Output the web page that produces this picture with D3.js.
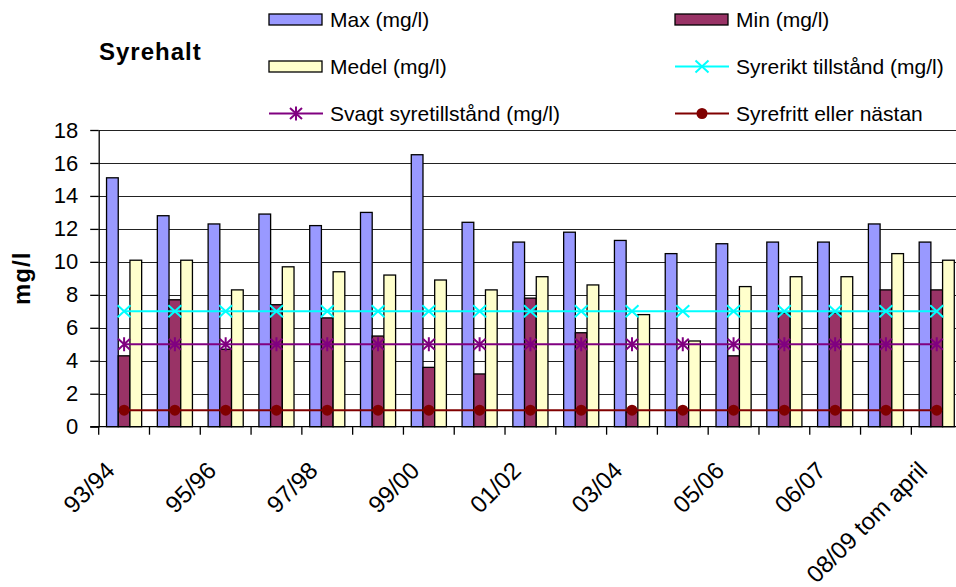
<!DOCTYPE html>
<html><head><meta charset="utf-8">
<script src="https://cdn.jsdelivr.net/npm/d3@7"></script>
<style>
body{margin:0;background:#fff}
svg{display:block;font-family:"Liberation Sans",Arial,sans-serif}
</style>
</head><body>
<svg id="c" width="956" height="587"></svg>
<script>
// ---- data ----
const categories = ["93/94","94/95","95/96","96/97","97/98","98/99","99/00","00/01","01/02","02/03","03/04","04/05","05/06","05/06 II","06/07","07/08","08/09 tom april"];
const maxValues   = [15.1,12.8,12.3,12.9,12.2,13.0,16.5,12.4,11.2,11.8,11.3,10.5,11.1,11.2,11.2,12.3,11.2];
const minValues   = [4.3,7.7,4.7,7.4,6.6,5.5,3.6,3.2,7.8,5.7,0.9,1.0,4.3,6.9,6.9,8.3,8.3];
const medelValues = [10.1,10.1,8.3,9.7,9.4,9.2,8.9,8.3,9.1,8.6,6.8,5.2,8.5,9.1,9.1,10.5,10.1];
const syrerikt    = [7,7,7,7,7,7,7,7,7,7,7,7,7,7,7,7,7];
const svagt       = [5,5,5,5,5,5,5,5,5,5,5,5,5,5,5,5,5];
const syrefritt   = [1,1,1,1,1,1,1,1,1,1,1,1,1,1,1,1,1];
const yTicks = [0,2,4,6,8,10,12,14,16,18];
const barSeries = ["Max (mg/l)","Min (mg/l)","Medel (mg/l)"];
const lineSeries = ["Syrerikt tillstånd (mg/l)","Svagt syretillstånd (mg/l)","Syrefritt eller nästan"];
const titleText = "Syrehalt";
const yTitle = "mg/l";

// ---- setup ----
const svg = d3.select("#c");
const W = 956;
const x0 = 98.7, plotTop = 130, plotBottom = 426.7;
const x = d3.scaleBand().domain(categories).range([x0, x0 + 17*50.79]).paddingInner(0).paddingOuter(0);
const xi = d3.scaleBand().domain(barSeries).range([0, x.bandwidth()]).paddingInner(0).paddingOuter(0.67);
const y = d3.scaleLinear().domain([0,18]).range([plotBottom, plotTop]);

const barColors = {"Max (mg/l)":"#9999ff","Min (mg/l)":"#993366","Medel (mg/l)":"#ffffcc"};
const barData = {"Max (mg/l)":maxValues,"Min (mg/l)":minValues,"Medel (mg/l)":medelValues};
const lineCfg = [
  {name:lineSeries[0], values:syrerikt, color:"#00ffff", marker:"x"},
  {name:lineSeries[1], values:svagt, color:"#800080", marker:"star"},
  {name:lineSeries[2], values:syrefritt, color:"#800000", marker:"circle"}
];

// gridlines
svg.append("g").selectAll("line").data(yTicks.filter(d=>d>0)).join("line")
  .attr("x1", x0).attr("x2", W)
  .attr("y1", d=>Math.round(y(d))+0.5).attr("y2", d=>Math.round(y(d))+0.5)
  .attr("stroke", "#222").attr("stroke-width", 1);

// bars
const gBars = svg.append("g");
barSeries.forEach(s => {
  gBars.append("g").selectAll("rect").data(categories).join("rect")
    .attr("x", (c)=>x(c)+xi(s))
    .attr("width", xi.bandwidth())
    .attr("y", (c,i)=>y(barData[s][i]))
    .attr("height", (c,i)=>y(0)-y(barData[s][i]))
    .attr("fill", barColors[s]).attr("stroke", "#000").attr("stroke-width", 1.3);
});

// marker drawer
function drawMarker(g, type, color, cx, cy) {
  if (type === "x") {
    g.append("path").attr("d", `M${cx-6.5},${cy-6}L${cx+6.5},${cy+6}M${cx-6.5},${cy+6}L${cx+6.5},${cy-6}`)
      .attr("stroke", color).attr("stroke-width", 2).attr("fill","none");
  } else if (type === "star") {
    g.append("path").attr("d", `M${cx-6},${cy-5.5}L${cx+6},${cy+5.5}M${cx-6},${cy+5.5}L${cx+6},${cy-5.5}M${cx},${cy-7}L${cx},${cy+7}`)
      .attr("stroke", color).attr("stroke-width", 2).attr("fill","none");
  } else {
    g.append("circle").attr("cx", cx).attr("cy", cy).attr("r", 5.5).attr("fill", color);
  }
}

// lines
const cx = c => x(c) + x.bandwidth()/2;
lineCfg.forEach(L => {
  const g = svg.append("g");
  const line = d3.line().x((v,i)=>cx(categories[i])).y(v=>y(v));
  g.append("path").attr("d", line(L.values)).attr("fill","none").attr("stroke", L.color).attr("stroke-width", 2);
  L.values.forEach((v,i)=>drawMarker(g, L.marker, L.color, cx(categories[i]), y(v)));
});

// y axis
const yAxis = svg.append("g").attr("transform", `translate(${x0},0)`)
  .call(d3.axisLeft(y).tickValues(yTicks).tickSize(8.5).tickSizeOuter(0).tickPadding(12));
yAxis.selectAll("path").attr("stroke","#000").attr("stroke-width",1.3);
yAxis.selectAll("line").attr("stroke","#000").attr("stroke-width",1.3);
yAxis.selectAll("text").attr("font-size", 22).attr("font-family","'Liberation Sans',Arial,sans-serif").attr("fill","#000");

// x axis
svg.append("line").attr("x1", x0-8.5).attr("x2", W).attr("y1", y(0)).attr("y2", y(0)).attr("stroke","#000").attr("stroke-width",1.3);
const tickXs = categories.map(c=>x(c)).concat([x.range()[1]]);
svg.append("g").selectAll("line").data(tickXs).join("line")
  .attr("x1", d=>d).attr("x2", d=>d).attr("y1", y(0)).attr("y2", y(0)+8)
  .attr("stroke","#000").attr("stroke-width",1.3);
svg.append("g").selectAll("text").data(categories.filter((c,i)=>i%2===0)).join("text")
  .attr("transform", c=>`translate(${cx(c)-8},${472}) rotate(-45)`)
  .attr("text-anchor","end").attr("font-size", 24).attr("fill","#000").text(c=>c);

// y title
svg.append("text").attr("transform", `translate(${30},${(plotTop+plotBottom)/2}) rotate(-90)`)
  .attr("text-anchor","middle").attr("font-weight","bold").attr("font-size",24).attr("letter-spacing",1)
  .text(yTitle);

// title
svg.append("text").attr("x", 99).attr("y", 60).attr("font-weight","bold").attr("font-size",24)
  .attr("letter-spacing",1).text(titleText);

// legend
const legendItems = [
  {name:barSeries[0], kind:"bar", col:0, row:0},
  {name:barSeries[1], kind:"bar", col:1, row:0},
  {name:barSeries[2], kind:"bar", col:0, row:1},
  {name:lineSeries[0], kind:"line", col:1, row:1, cfg:lineCfg[0]},
  {name:lineSeries[1], kind:"line", col:0, row:2, cfg:lineCfg[1]},
  {name:lineSeries[2], kind:"line", col:1, row:2, cfg:lineCfg[2]}
];
const colX = [269, 675], rowY = [19.5, 66.5, 113.5];
const gl = svg.append("g");
legendItems.forEach(it => {
  const lx = colX[it.col], ly = rowY[it.row];
  if (it.kind === "bar") {
    gl.append("rect").attr("x", lx).attr("y", ly-5.5).attr("width", 53).attr("height", 11)
      .attr("fill", barColors[it.name]).attr("stroke","#000").attr("stroke-width",1.3);
  } else {
    gl.append("line").attr("x1", lx).attr("x2", lx+54).attr("y1", ly).attr("y2", ly)
      .attr("stroke", it.cfg.color).attr("stroke-width", 2);
    drawMarker(gl, it.cfg.marker, it.cfg.color, lx+27, ly);
  }
  gl.append("text").attr("x", lx+61).attr("y", ly).attr("dy","0.36em").attr("font-size",21).attr("fill","#000").text(it.name);
});
</script>
</body></html>
